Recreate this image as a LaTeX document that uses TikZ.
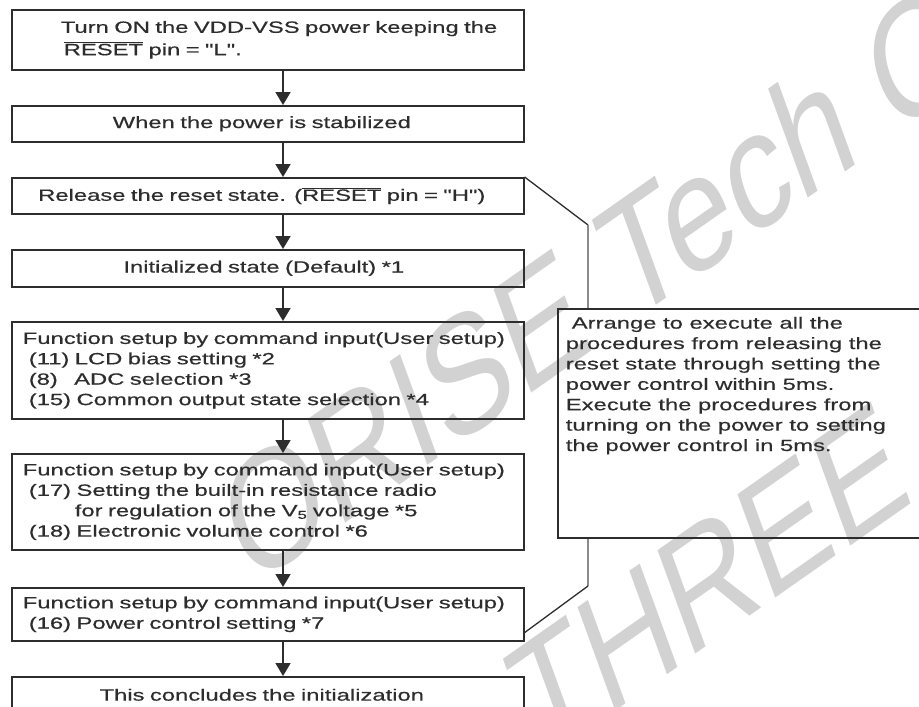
\documentclass[tikz,border=0pt]{standalone}
\usepackage{fontspec}
\newfontfamily\boxfont{Liberation Sans}[FakeStretch=1.46,FakeBold=0.5]
\newfontfamily\wmfont{Liberation Sans}
\usetikzlibrary{arrows.meta,positioning,calc}

\definecolor{ink}{RGB}{45,45,45}
\definecolor{wmgray}{RGB}{210,210,210}
\newcommand{\ovl}[1]{$\overline{\mbox{#1}}$}

\tikzset{
  stepbox/.style={draw=ink, line width=1.6pt, anchor=north west, text=ink,
    minimum width=512pt, text width=490pt, inner xsep=11pt, inner ysep=0pt,
    font=\boxfont\fontsize{16.3}{20.4}\selectfont},
  notebox/.style={draw=ink, line width=1.6pt, anchor=north west, text=ink,
    inner xsep=8pt, inner ysep=8pt, font=\boxfont\fontsize{16.3}{20.4}\selectfont},
  flow/.style={draw=ink, line width=1.8pt, -{Triangle[width=15pt,length=13pt]}},
  brace/.style={draw=ink, line width=1.3pt},
  bar/.style={draw=ink!55, line width=2.6pt},
  wmark/.style={text=wmgray, inner sep=0pt, anchor=base west, transform shape,
    cm={0.696,0.488,-0.342,0.940,(0,0)}, font=\wmfont\fontsize{160}{160}\selectfont}
}

\begin{document}
\begin{tikzpicture}[x=1pt,y=-1pt]
  \useasboundingbox (0,0) rectangle (919,707);
  \clip (0,0) rectangle (919,707);

  % watermark
  \node[wmark] (wm1) at (250,590) {ORISE Tech Co};
  \node[wmark] (wm2) at (538,765) {THREE};

  \node[stepbox, minimum height=60pt, align=left] (b1) at (11,9)
    {\hspace*{38pt}Turn ON the VDD-VSS power keeping the\\[2pt]
     \hspace*{41pt}\ovl{RESET} pin = "L".};
  \node[stepbox, minimum height=36pt, align=center] (b2) at (11,105)
    {When the power is stabilized\hspace*{12pt}};
  \node[stepbox, minimum height=36pt, align=center] (b3) at (11,177)
    {Release the reset state. (\ovl{RESET} pin = "H")\hspace*{12pt}};
  \node[stepbox, minimum height=37pt, align=center] (b4) at (11,249)
    {Initialized state (Default) *1\hspace*{8pt}};
  \node[stepbox, minimum height=97pt, align=left] (b5) at (11,321)
    {Function setup by command input(User setup)\\
     \hspace*{6pt}(11) LCD bias setting *2\\
     \hspace*{6pt}(8)~~~ADC selection *3\\
     \hspace*{6pt}(15) Common output state selection *4};
  \node[stepbox, minimum height=96pt, align=left] (b6) at (11,453)
    {Function setup by command input(User setup)\\
     \hspace*{6pt}(17) Setting the built-in resistance radio\\
     \hspace*{52pt}for regulation of the V\textsubscript{5} voltage *5\\
     \hspace*{6pt}(18) Electronic volume control *6};
  \node[stepbox, minimum height=53pt, align=left] (b7) at (11,587)
    {Function setup by command input(User setup)\\
     \hspace*{6pt}(16) Power control setting *7};
  \node[stepbox, minimum height=36pt, align=center] (b8) at (11,676)
    {This concludes the initialization\hspace*{12pt}};

  \node[notebox] (note) at (557,308)
    {\parbox[c][213pt][t]{360pt}{\raggedright
      \hspace*{6pt}Arrange to execute all the\\
      procedures from releasing the\\
      reset state through setting the\\
      power control within 5ms.\\
      Execute the procedures from\\
      turning on the power to setting\\
      the power control in 5ms.}};

  % flow arrows
  \coordinate (ax) at (283,0);
  \draw[flow] (b1.south -| ax) -- (b2.north -| ax);
  \draw[flow] (b2.south -| ax) -- (b3.north -| ax);
  \draw[flow] (b3.south -| ax) -- (b4.north -| ax);
  \draw[flow] (b4.south -| ax) -- (b5.north -| ax);
  \draw[flow] (b5.south -| ax) -- (b6.north -| ax);
  \draw[flow] (b6.south -| ax) -- (b7.north -| ax);
  \draw[flow] (b7.south -| ax) -- (b8.north -| ax);

  % bracket to the note
  \coordinate (bt) at (588,225);
  \coordinate (bb) at (588,586);
  \coordinate (b7r) at ($(b7.south east)+(0,-9)$);
  \draw[brace] (b3.north east) -- (bt);
  \draw[bar] (bt) -- (bt |- note.north);
  \draw[bar] (bb |- note.south) -- (bb);
  \draw[brace] (bb) -- (b7r);
\end{tikzpicture}
\end{document}
